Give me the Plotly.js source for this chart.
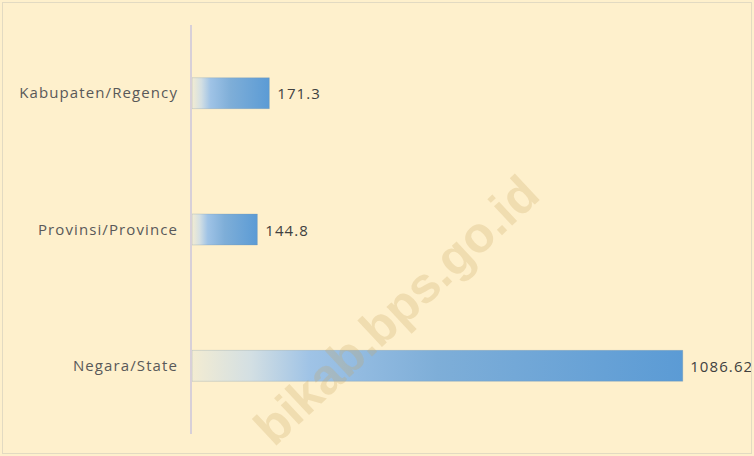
<!DOCTYPE html>
<html>
<head>
<meta charset="utf-8">
<script src="https://cdn.plot.ly/plotly-3.0.1.min.js"></script>
<style>
html,body{margin:0;padding:0;background:#FEF0CC;}
#wrap{position:relative;width:754px;height:456px;}
#chart{width:754px;height:456px;}
#frame{position:absolute;left:2px;top:2px;width:750px;height:452px;border:1px solid #E2DAC2;box-sizing:border-box;pointer-events:none;}
.ytick text{letter-spacing:1.1px;}
.annotation.val text{letter-spacing:1.1px;}
</style>
</head>
<body>
<div id="wrap"><div id="chart"></div><div id="frame"></div></div>
<script>
// Data (top to bottom as displayed)
const categories = ["Kabupaten/Regency", "Provinsi/Province", "Negara/State"];
const values = [171.3, 144.8, 1086.62];
const valueLabels = ["171.3", "144.8", "1086.62"];
const watermark = "bikab.bps.go.id";

const trace = {
  type: "bar",
  orientation: "h",
  y: categories,
  x: values,
  width: 0.227,
  marker: {color: "#5B9BD5", line: {width: 0}},
  hoverinfo: "none"
};

const annotations = values.map((v, i) => ({
  x: v, y: categories[i], xref: "x", yref: "y",
  text: valueLabels[i], showarrow: false,
  xanchor: "left", yanchor: "middle", xshift: 9,
  font: {family: "Open Sans, sans-serif", size: 15, color: "#404040"}
}));
annotations.unshift({
  x: 0.378, y: 0.303, xref: "paper", yref: "paper",
  xanchor: "center", yanchor: "middle",
  text: "<b>" + watermark + "</b>", showarrow: false,
  textangle: -43,
  font: {family: "Liberation Sans, Arial, sans-serif", size: 50, color: "rgba(200,165,95,0.26)"}
});

const layout = {
  width: 754, height: 456,
  paper_bgcolor: "#FEF0CC", plot_bgcolor: "#FEF0CC",
  margin: {l: 192, r: 20, t: 25, b: 22},
  showlegend: false,
  xaxis: {range: [0, 1200], visible: false, showgrid: false, zeroline: false, fixedrange: true},
  yaxis: {
    type: "category", categoryorder: "array", categoryarray: categories,
    range: [2.5, -0.5],
    showline: true, linecolor: "#D8D0D8", linewidth: 2,
    showgrid: false, zeroline: false, ticks: "",
    ticklabelstandoff: 9,
    tickfont: {family: "Open Sans, sans-serif", size: 15, color: "#595959"}
  },
  annotations: annotations
};

Plotly.newPlot("chart", [trace], layout, {displayModeBar: false, staticPlot: true}).then(gd => {
  const svg = gd.querySelector("svg.main-svg");
  const ns = "http://www.w3.org/2000/svg";
  let defs = svg.querySelector("defs");
  if (!defs) { defs = document.createElementNS(ns, "defs"); svg.insertBefore(defs, svg.firstChild); }
  const grad = document.createElementNS(ns, "linearGradient");
  grad.setAttribute("id", "barGrad");
  grad.setAttribute("x1", "0"); grad.setAttribute("y1", "0");
  grad.setAttribute("x2", "1"); grad.setAttribute("y2", "0");
  [["0", "#F3ECD2"], ["0.12", "#D3DFE3"], ["0.24", "#9FC3E6"], ["0.5", "#7EAED8"], ["1", "#5B9BD5"]].forEach(([o, c]) => {
    const s = document.createElementNS(ns, "stop");
    s.setAttribute("offset", o); s.setAttribute("stop-color", c);
    grad.appendChild(s);
  });
  defs.appendChild(grad);
  gd.querySelectorAll(".barlayer .point path").forEach(p => {
    p.style.fill = "url(#barGrad)";
    p.style.stroke = "rgba(120,150,170,0.35)";
    p.style.strokeWidth = "0.8px";
  });
  const anns = gd.querySelectorAll(".annotation");
  anns.forEach((a, i) => { if (i > 0) a.classList.add("val"); });
});
</script>
</body>
</html>
